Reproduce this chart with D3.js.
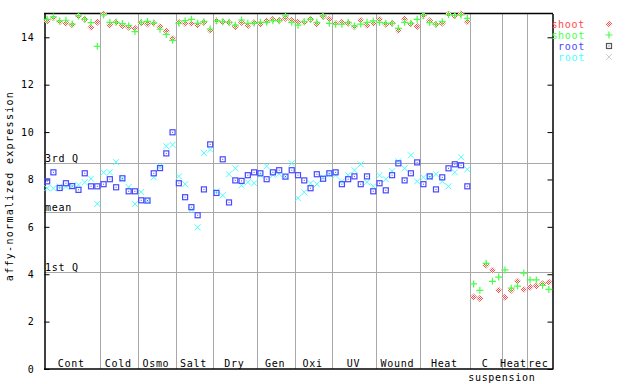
<!DOCTYPE html>
<html>
<head>
<meta charset="utf-8">
<script src="https://cdn.jsdelivr.net/npm/d3@7"></script>
<style>
  body { margin: 0; background: #fff; }
  text { font-family: "DejaVu Sans Mono", monospace; }
</style>
</head>
<body>
<svg id="chart" width="640" height="384"></svg>
<script>
// groups of samples along the x axis
var groupNames = ["Cont", "Cold", "Osmo", "Salt", "Dry", "Gen", "Oxi", "UV", "Wound", "Heat", "C", "Heat", "rec"];
var groupSizes = [9, 6, 6, 6, 7, 6, 6, 7, 7, 8, 5, 4, 4];

// shoot, red diamonds
var shootRed = [14.69, 14.82, 14.66, 14.59, 14.53, 14.89, 14.76, 14.42, 14.63,
  14.99, 14.52, 14.63, 14.49, 14.42, 14.38,
  14.60, 14.56, 14.59, 14.44, 14.27, 13.96,
  14.63, 14.58, 14.58, 14.51, 14.62, 14.29,
  14.70, 14.65, 14.62, 14.45, 14.62, 14.49, 14.62,
  14.55, 14.70, 14.76, 14.72, 14.80, 14.72,
  14.65, 14.63, 14.76, 14.56, 14.88, 14.77,
  14.59, 14.63, 14.59, 14.45, 14.72, 14.51, 14.59,
  14.76, 14.55, 14.59, 14.29, 14.77, 14.56, 14.46,
  14.91, 14.70, 14.55, 14.59, 14.97, 14.90, 14.99, 14.66,
  3.04, 2.98, 4.38, 4.17, 3.32,
  3.03, 3.32, 3.70, 3.36,
  3.45, 3.50, 3.60, 3.66];

// shoot, green pluses
var shootGreen = [14.76, 14.86, 14.69, 14.72, 14.56, 14.90, 14.76, 14.62, 13.62,
  14.94, 14.63, 14.63, 14.58, 14.49, 14.24,
  14.63, 14.67, 14.60, 14.34, 14.12, 13.87,
  14.59, 14.70, 14.76, 14.59, 14.66, 14.35,
  14.70, 14.66, 14.63, 14.51, 14.73, 14.59, 14.59,
  14.63, 14.63, 14.70, 14.70, 14.90, 14.63,
  14.51, 14.66, 14.76, 14.63, 14.90, 14.59,
  14.55, 14.55, 14.63, 14.48, 14.56, 14.63, 14.69,
  14.63, 14.59, 14.59, 14.38, 14.63, 14.59, 14.76,
  14.92, 14.62, 14.55, 14.66, 14.96, 14.92, 14.94, 14.80,
  3.59, 3.32, 4.46, 3.70, 3.88,
  4.18, 3.41, 3.50, 4.05,
  3.76, 3.76, 3.53, 3.36];

// root, blue squares
var rootBlue = [7.92, 8.30, 7.64, 7.84, 7.72, 7.56, 8.26, 7.71, 7.71,
  7.80, 8.01, 7.67, 8.05, 7.50, 7.50,
  7.12, 7.11, 8.26, 8.48, 9.10, 9.99,
  7.84, 7.25, 6.83, 6.49, 7.58, 9.48,
  7.43, 8.85, 7.03, 7.96, 7.94, 8.18, 8.30,
  8.26, 8.01, 8.30, 8.39, 8.12, 8.39,
  8.18, 7.96, 7.63, 8.22, 8.03, 8.26,
  8.30, 7.80, 8.01, 8.13, 7.80, 8.13, 7.50,
  7.84, 7.54, 8.18, 8.68, 7.96, 8.26, 8.72,
  7.80, 8.13, 7.58, 8.09, 8.47, 8.64, 8.60, 7.71];

// root, cyan crosses
var rootCyan = [7.63, 7.63, 7.70, 7.70, 7.70, 7.77, 7.88, 8.03, 6.97,
  8.30, 8.30, 8.73, 8.01, 7.68, 6.97,
  7.47, 7.10, 8.09, 8.56, 9.40, 9.46,
  8.13, 7.80, 6.72, 5.98, 9.12, 9.26,
  7.50, 7.33, 8.22, 8.47, 7.75, 7.88, 7.84,
  8.18, 8.56, 8.18, 8.23, 8.12, 8.68,
  7.21, 7.46, 7.84, 7.80, 8.09, 8.22,
  8.18, 7.92, 8.18, 8.39, 8.64, 7.88, 7.71,
  8.18, 8.01, 8.35, 8.77, 8.47, 9.02, 7.92,
  8.09, 8.09, 8.22, 7.92, 7.71, 8.30, 8.94, 8.43];

// reference lines
var refNames = ["3rd Q", "mean", "1st Q"];
var refValues = [8.68, 6.61, 4.08];

var yTicks = [0, 2, 4, 6, 8, 10, 12, 14];

var legendNames = ["shoot", "shoot", "root", "root"];
var red = "#ff4848", green = "#48ff48", blue = "#4848ff", cyan = "#48ffff";
var legendColors = [red, green, blue, cyan];

var svg = d3.select("#chart");
var plotL = 44, plotR = 552, plotT = 13.6, plotB = 369;
var total = d3.sum(groupSizes);

var x = d3.scaleLinear().domain([0, total]).range([plotL, plotR]);
var y = d3.scaleLinear().domain([0, 15]).range([plotB, plotT]);

// checker fill for the diamonds
var pat = svg.append("defs").append("pattern")
  .attr("id", "checker").attr("patternUnits", "userSpaceOnUse")
  .attr("width", 2).attr("height", 2);
pat.append("rect").attr("width", 2).attr("height", 2).attr("fill", "#fff");
pat.append("rect").attr("x", 0).attr("y", 0).attr("width", 1).attr("height", 1).attr("fill", red);
pat.append("rect").attr("x", 1).attr("y", 1).attr("width", 1).attr("height", 1).attr("fill", red);

// group boundaries
var starts = [];
var acc = 0;
groupSizes.forEach(function(n) { starts.push(acc); acc += n; });

svg.append("g").selectAll("line")
  .data(starts.slice(1))
  .join("line")
  .attr("x1", function(d) { return Math.round(x(d)) + 0.5; })
  .attr("x2", function(d) { return Math.round(x(d)) + 0.5; })
  .attr("y1", plotT).attr("y2", plotB)
  .attr("stroke", "#a8a8a8");

// quartile / mean lines
svg.append("g").selectAll("line")
  .data(refValues)
  .join("line")
  .attr("x1", plotL).attr("x2", plotR)
  .attr("y1", function(d) { return Math.round(y(d)) + 0.5; })
  .attr("y2", function(d) { return Math.round(y(d)) + 0.5; })
  .attr("stroke", "#a8a8a8");

svg.append("g").selectAll("text")
  .data(refValues)
  .join("text")
  .attr("x", plotL + 1)
  .attr("y", function(d) { return y(d) - 1.5; })
  .attr("font-size", 10).attr("letter-spacing", 0.7)
  .text(function(d, i) { return refNames[i]; });

// axes
var yAxisL = svg.append("g")
  .attr("transform", "translate(" + (plotL + 0.5) + ",0)")
  .call(d3.axisLeft(y).tickValues(yTicks).tickSize(-5).tickSizeOuter(0).tickPadding(10).tickFormat(d3.format("d")));
var yAxisR = svg.append("g")
  .attr("transform", "translate(" + (plotR + 0.5) + ",0)")
  .call(d3.axisRight(y).tickValues(yTicks).tickSize(-5).tickSizeOuter(0).tickFormat(""));
[yAxisL, yAxisR].forEach(function(a) {
  a.select(".domain").attr("stroke-width", 1.5);
  a.selectAll("text").attr("font-size", 10).attr("letter-spacing", 0.7)
    .attr("font-family", "DejaVu Sans Mono, monospace");
});

svg.append("line").attr("x1", plotL).attr("x2", plotR + 1)
  .attr("y1", plotT).attr("y2", plotT).attr("stroke", "#000").attr("stroke-width", 1.5);
svg.append("line").attr("x1", plotL).attr("x2", plotR + 1)
  .attr("y1", plotB).attr("y2", plotB).attr("stroke", "#000").attr("stroke-width", 1.5);

// category labels
svg.append("g").selectAll("text")
  .data(groupNames)
  .join("text")
  .attr("x", function(d, i) { return x(starts[i] + groupSizes[i] / 2) - 1; })
  .attr("y", 367)
  .attr("text-anchor", "middle")
  .attr("font-size", 10).attr("letter-spacing", 0.7)
  .text(function(d) { return d; });

svg.append("text")
  .attr("x", x(starts[11]))
  .attr("y", 381)
  .attr("text-anchor", "middle")
  .attr("font-size", 10).attr("letter-spacing", 0.7)
  .text("suspension");

svg.append("text")
  .attr("transform", "translate(13,186) rotate(-90)")
  .attr("text-anchor", "middle")
  .attr("font-size", 10).attr("letter-spacing", 1.3)
  .text("affy-normalized expression");

// marker helpers
function diamond(g, cx, cy) {
  g.append("path")
    .attr("d", "M" + cx + "," + (cy - 3.5) + "L" + (cx + 3.5) + "," + cy + "L" + cx + "," + (cy + 3.5) + "L" + (cx - 3.5) + "," + cy + "Z")
    .attr("fill", "url(#checker)");
}
function plus(g, cx, cy, col) {
  g.append("path")
    .attr("d", "M" + (cx - 3.5) + "," + cy + "H" + (cx + 3.5) + "M" + cx + "," + (cy - 3.5) + "V" + (cy + 3.5))
    .attr("stroke", col).attr("stroke-width", 1.2).attr("fill", "none");
}
function square(g, cx, cy, col) {
  g.append("rect").attr("x", cx - 2.5).attr("y", cy - 2.5).attr("width", 5).attr("height", 5)
    .attr("fill", "none").attr("stroke", col).attr("stroke-width", 1.2);
  g.append("rect").attr("x", cx - 0.5).attr("y", cy - 0.5).attr("width", 1).attr("height", 1).attr("fill", col);
}
function cross(g, cx, cy, col) {
  g.append("path")
    .attr("d", "M" + (cx - 3) + "," + (cy - 3) + "L" + (cx + 3) + "," + (cy + 3) + "M" + (cx - 3) + "," + (cy + 3) + "L" + (cx + 3) + "," + (cy - 3))
    .attr("stroke", col).attr("stroke-width", 1).attr("fill", "none");
}

var marks = svg.append("g");
rootCyan.forEach(function(v, i) { cross(marks, x(i + 0.5), y(v), cyan); });
rootBlue.forEach(function(v, i) { square(marks, x(i + 0.5), y(v), blue); });
shootRed.forEach(function(v, i) { diamond(marks, x(i + 0.5), y(v)); });
shootGreen.forEach(function(v, i) { plus(marks, x(i + 0.5), y(v), green); });

// legend
var leg = svg.append("g");
legendNames.forEach(function(name, i) {
  var ly = 24 + i * 11;
  leg.append("text").attr("x", 585).attr("y", ly + 3.5)
    .attr("text-anchor", "end").attr("fill", legendColors[i])
    .attr("font-size", 10).attr("letter-spacing", 0.7)
    .text(name);
  if (i === 0) diamond(leg, 609, ly);
  if (i === 1) plus(leg, 609, ly, green);
  if (i === 2) square(leg, 609, ly, "#555");
  if (i === 3) cross(leg, 609, ly, "#ccc");
});
</script>
</body>
</html>
